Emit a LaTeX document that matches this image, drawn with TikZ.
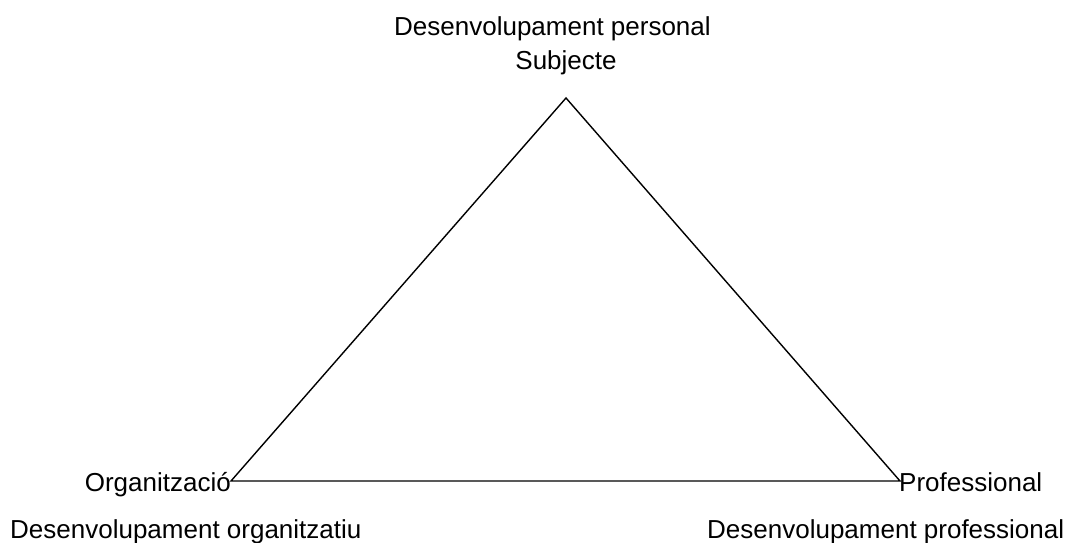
\documentclass[tikz,border=0pt]{standalone}
\usepackage{fontspec}
\setmainfont{Liberation Sans}
\begin{document}
\begin{tikzpicture}[x=1pt,y=1pt,
  lbl/.style={inner sep=0pt, font=\fontsize{26}{30}\selectfont},
  edge/.style={line width=1.4pt, line join=miter}]
  \useasboundingbox[clip] (0,0) rectangle (1073,543);
  % vertices of the triangle
  \coordinate (top) at (566,445);
  \coordinate (left) at (231,62);
  \coordinate (right) at (900,62);
  \draw[edge] (top) -- (left) -- (right) -- cycle;
  % labels
  \node[lbl, anchor=base west] (dp) at (394,507.5) {Desenvolupament personal};
  \node[lbl, anchor=base] (subj) at (566,473.5) {Subjecte};
  \node[lbl, anchor=base east] (org) at (231,51.5) {Organització};
  \node[lbl, anchor=base west] (dorg) at (10,4.5) {Desenvolupament organitzatiu};
  \node[lbl, anchor=base west] (prof) at (899,51.5) {Professional};
  \node[lbl, anchor=base west] (dprof) at (707,4.5) {Desenvolupament professional};
\end{tikzpicture}
\end{document}
